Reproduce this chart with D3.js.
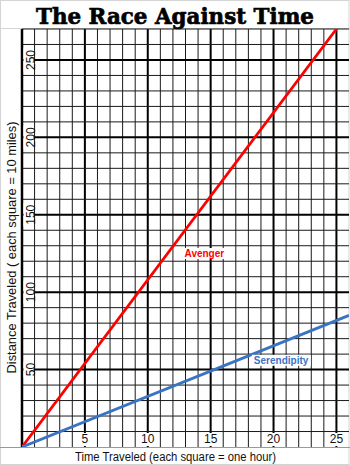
<!DOCTYPE html>
<html>
<head>
<meta charset="utf-8">
<script src="https://cdn.jsdelivr.net/npm/d3@7"></script>
<style>
    html, body { margin: 0; padding: 0; background: #fff; }
    svg { display: block; }
</style>
</head>
<body>
<div id="chart"></div>
<script>
"use strict";

// chart data
const titleText = "The Race Against Time";
const xTitle = "Time Traveled (each square = one hour)";
const yTitle = "Distance Traveled ( each square = 10 miles)";
const xTicks = [5, 10, 15, 20, 25];
const yTicks = [50, 100, 150, 200, 250];
const avengerPoints = [[0, 0], [25, 270]];
const serendipityPoints = [[0, 0], [26, 85]];
const seriesLabels = [
    {name: "Avenger", at: [14.5, 125], color: "#ff0000"},
    {name: "Serendipity", at: [20.6, 56], color: "#3a72c4"}
];

const width = 350, height = 465;
const plot = {left: 22, right: 349, top: 29, bottom: 447};

const svg = d3.select("#chart")
    .append("svg")
    .attr("width", width)
    .attr("height", height);

const xScale = d3.scaleLinear().domain([0, 26]).range([plot.left, plot.right]);
const yScale = d3.scaleLinear().domain([0, 270]).range([plot.bottom, plot.top]);

// cell borders
const border = "#d4d4d4";
svg.append("rect")
    .attr("x", 0.5).attr("y", 0.5)
    .attr("width", width - 1.5).attr("height", height - 1)
    .attr("fill", "none").attr("stroke", border);
svg.append("line")
    .attr("x1", 0).attr("x2", width).attr("y1", 28.5).attr("y2", 28.5)
    .attr("stroke", border);

// grid
const grid = svg.append("g");
grid.selectAll(".vminor")
    .data(d3.range(1, 26))
    .join("line")
    .attr("x1", d => xScale(d)).attr("x2", d => xScale(d))
    .attr("y1", plot.top).attr("y2", plot.bottom)
    .attr("stroke", d => d % 5 === 0 ? "#000" : "#1a1a1a")
    .attr("stroke-width", d => d % 5 === 0 ? 2 : 1);
grid.selectAll(".hminor")
    .data(d3.range(10, 271, 10))
    .join("line")
    .attr("x1", plot.left).attr("x2", plot.right)
    .attr("y1", d => yScale(d)).attr("y2", d => yScale(d))
    .attr("stroke", d => d % 50 === 0 ? "#000" : "#1a1a1a")
    .attr("stroke-width", d => d % 50 === 0 ? 2 : 1);

svg.append("line")
    .attr("x1", 0).attr("x2", width).attr("y1", plot.bottom + 0.5).attr("y2", plot.bottom + 0.5)
    .attr("stroke", "#999");
svg.append("line")
    .attr("x1", plot.left).attr("x2", plot.left)
    .attr("y1", plot.top).attr("y2", plot.bottom)
    .attr("stroke", "#000").attr("stroke-width", 2.5);

// series
const line = d3.line()
    .x(d => xScale(d[0]))
    .y(d => yScale(d[1]));
svg.append("clipPath").attr("id", "plot-clip")
    .append("rect")
    .attr("x", plot.left).attr("y", plot.top)
    .attr("width", plot.right - plot.left).attr("height", plot.bottom - plot.top);
svg.append("path")
    .datum(avengerPoints)
    .attr("clip-path", "url(#plot-clip)")
    .attr("d", line)
    .attr("fill", "none").attr("stroke", "#ff0000").attr("stroke-width", 2.8);
svg.append("path")
    .datum(serendipityPoints)
    .attr("clip-path", "url(#plot-clip)")
    .attr("d", line)
    .attr("fill", "none").attr("stroke", "#3a72c4").attr("stroke-width", 2.8);

// tick labels with white boxes
const tickFont = "'Liberation Sans', Arial, sans-serif";
xTicks.forEach(t => {
    const w = String(t).length * 7 + 4;
    svg.append("rect")
        .attr("x", xScale(t) - w / 2).attr("y", yScale(10) + 1.5)
        .attr("width", w).attr("height", yScale(0) - yScale(10) - 2.5)
        .attr("fill", "#fff");
    svg.append("text")
        .attr("x", xScale(t)).attr("y", yScale(0) - 4)
        .attr("text-anchor", "middle")
        .style("font-family", tickFont).style("font-size", "12px")
        .attr("fill", "#111")
        .text(t);
});
yTicks.forEach(t => {
    const h = String(t).length * 7 + 2;
    svg.append("rect")
        .attr("x", xScale(0) + 1.5).attr("y", yScale(t) - h / 2)
        .attr("width", xScale(1) - xScale(0) - 2.5).attr("height", h)
        .attr("fill", "#fff");
    svg.append("text")
        .attr("transform", `translate(${xScale(0) + 12.5},${yScale(t)}) rotate(-90)`)
        .attr("text-anchor", "middle")
        .style("font-family", tickFont).style("font-size", "12px")
        .attr("fill", "#111")
        .text(t);
});

// series labels
seriesLabels.forEach(s => {
    const t = svg.append("text")
        .attr("x", xScale(s.at[0])).attr("y", yScale(s.at[1]) + 3.5)
        .attr("text-anchor", "middle")
        .style("font-family", tickFont).style("font-size", "10px").style("font-weight", "bold")
        .attr("fill", s.color)
        .text(s.name);
    const b = t.node().getBBox();
    svg.insert("rect", () => t.node())
        .attr("x", b.x - 2).attr("y", b.y)
        .attr("width", b.width + 4).attr("height", b.height)
        .attr("fill", "#fff");
});

// titles
svg.append("text")
    .attr("x", 175).attr("y", 24)
    .attr("text-anchor", "middle")
    .attr("textLength", 278).attr("lengthAdjust", "spacingAndGlyphs")
    .style("font-family", "'DejaVu Serif', serif").style("font-size", "23px").style("font-weight", "bold")
    .attr("fill", "#000")
    .attr("stroke", "#000").attr("stroke-width", 0.7)
    .text(titleText);
svg.append("text")
    .attr("x", 175.5).attr("y", 461)
    .attr("text-anchor", "middle")
    .attr("textLength", 201).attr("lengthAdjust", "spacingAndGlyphs")
    .style("font-family", tickFont).style("font-size", "12px")
    .attr("fill", "#111")
    .text(xTitle);
svg.append("text")
    .attr("transform", "translate(16,247.5) rotate(-90)")
    .attr("text-anchor", "middle")
    .attr("textLength", 252).attr("lengthAdjust", "spacingAndGlyphs")
    .style("font-family", tickFont).style("font-size", "12px")
    .attr("fill", "#111")
    .text(yTitle);
</script>
</body>
</html>
